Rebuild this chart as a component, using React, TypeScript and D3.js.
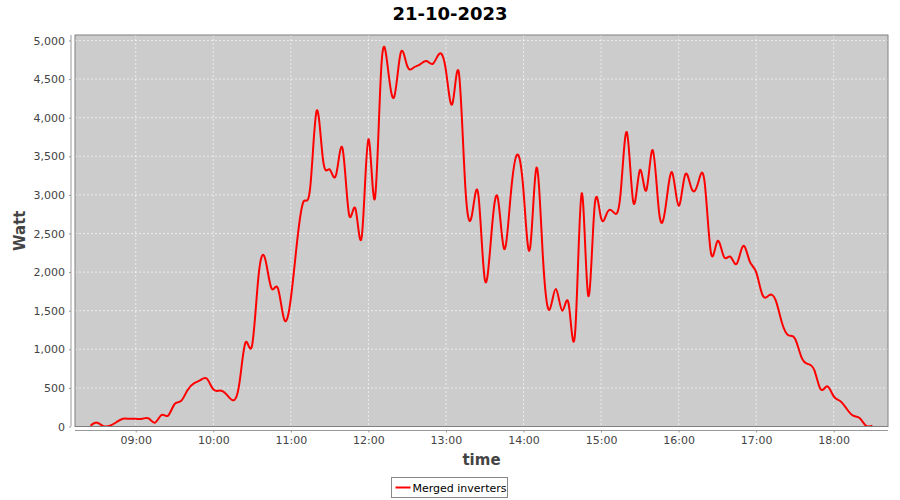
import { useEffect, useRef } from 'react';
import * as d3 from 'd3';

// 5-minute samples, 08:25 .. 18:30
const startTime = '08:25';
const stepMinutes = 5;
const watts = [
    10, 50, 5, 10, 55, 100, 100, 100, 100, 105, 50, 150, 140, 290, 330, 470, 560, 600, 620,
    480, 465, 420, 340, 540, 1090, 1050, 1950, 2180, 1790, 1790, 1380,
    1660, 2420, 2920, 3100, 4090, 3440, 3330, 3260, 3600, 2750, 2820, 2480,
    3720, 2950, 4660, 4650, 4270, 4840, 4670, 4650, 4690, 4735, 4700, 4830,
    4610, 4180, 4580, 3100, 2730, 3010, 1910, 2460, 2970, 2300, 2980, 3520,
    3050, 2300, 3350, 2200, 1510, 1780, 1500, 1580, 1230, 3020, 1700, 2850,
    2700, 2780, 2770, 3000, 3810, 2900, 3320, 3060, 3580, 2760, 2850, 3290,
    2860, 3260, 3080, 3150, 3180, 2250, 2400, 2200, 2200, 2110, 2340, 2140,
    2000, 1700, 1700, 1640, 1340, 1180, 1140, 900, 810, 730, 480, 520,
    390, 330, 230, 140, 110, 10, 10,
];
const yTicks = [0, 500, 1000, 1500, 2000, 2500, 3000, 3500, 4000, 4500, 5000];
const xTickHours = [9, 10, 11, 12, 13, 14, 15, 16, 17, 18];
const title = '21-10-2023';
const seriesName = 'Merged inverters';

const day = new Date(2023, 9, 21);
const at = (h: number, m: number) => new Date(day.getFullYear(), day.getMonth(), day.getDate(), h, m);

export default function App() {
    const ref = useRef<SVGSVGElement>(null);

    useEffect(() => {
        if (!ref.current) return;
        const svg = d3.select(ref.current);
        svg.selectAll('*').remove();

        const W = 900, H = 500;
        const plot = { left: 75, right: 888, top: 35, bottom: 426.5 };
        const font = '"DejaVu Sans", sans-serif';

        const [sh, sm] = startTime.split(':').map(Number);
        const data = watts.map((v, i) => ({ t: at(sh, sm + i * stepMinutes), v }));

        const x = d3.scaleTime()
            .domain([at(8, 13.4), at(18, 42.2)])
            .range([plot.left, plot.right]);
        const y = d3.scaleLinear()
            .domain([0, 5071])
            .range([plot.bottom, plot.top]);

        svg.append('rect').attr('width', W).attr('height', H).attr('fill', '#fff');

        // Title
        svg.append('text')
            .attr('x', 450).attr('y', 20)
            .attr('text-anchor', 'middle')
            .attr('font-family', font).attr('font-weight', 'bold').attr('font-size', 18)
            .text(title);

        // Plot background
        svg.append('rect')
            .attr('x', plot.left).attr('y', plot.top)
            .attr('width', plot.right - plot.left).attr('height', plot.bottom - plot.top)
            .attr('fill', '#cccccc');

        // Gridlines
        const grid = svg.append('g').attr('stroke', '#fff').attr('stroke-width', 0.7)
            .attr('stroke-dasharray', '2,2').attr('opacity', 0.9);
        yTicks.forEach(v => {
            grid.append('line')
                .attr('x1', plot.left).attr('x2', plot.right)
                .attr('y1', y(v)).attr('y2', y(v));
        });
        const xTicks = xTickHours.map(h => at(h, 0));
        xTicks.forEach(t => {
            grid.append('line')
                .attr('x1', x(t)).attr('x2', x(t))
                .attr('y1', plot.top).attr('y2', plot.bottom);
        });

        // Series
        const line = d3.line<{ t: Date; v: number }>()
            .x(d => x(d.t))
            .y(d => y(d.v))
            .curve(d3.curveNatural);
        svg.append('defs').append('clipPath').attr('id', 'plotclip')
            .append('rect')
            .attr('x', plot.left).attr('y', plot.top)
            .attr('width', plot.right - plot.left).attr('height', plot.bottom - plot.top);
        svg.append('path')
            .datum(data)
            .attr('clip-path', 'url(#plotclip)')
            .attr('d', line)
            .attr('fill', 'none')
            .attr('stroke', '#ff0000')
            .attr('stroke-width', 2)
            .attr('stroke-linejoin', 'round');

        // Plot outline
        svg.append('rect')
            .attr('x', plot.left).attr('y', plot.top)
            .attr('width', plot.right - plot.left).attr('height', plot.bottom - plot.top)
            .attr('fill', 'none').attr('stroke', '#808080').attr('stroke-width', 1);

        // Y axis
        const yAxis = svg.append('g')
            .attr('transform', 'translate(71,0)')
            .call(d3.axisLeft(y).tickValues(yTicks).tickSize(2).tickPadding(4)
                .tickFormat(d => d3.format(',')(d as number)).tickSizeOuter(0));
        yAxis.select('.domain').attr('stroke', '#999').attr('d', `M0,${plot.top}V${plot.bottom}`);
        yAxis.selectAll('.tick line').attr('stroke', '#999');
        yAxis.selectAll('.tick text').attr('fill', '#444').attr('font-size', 11).attr('font-family', font);

        // X axis
        const xAxis = svg.append('g')
            .attr('transform', 'translate(0,430.5)')
            .call(d3.axisBottom(x).tickValues(xTicks).tickSize(2).tickPadding(4)
                .tickFormat(d => d3.timeFormat('%H:%M')(d as Date)).tickSizeOuter(0));
        xAxis.select('.domain').attr('stroke', '#999').attr('d', `M${plot.left},0H${plot.right}`);
        xAxis.selectAll('.tick line').attr('stroke', '#999');
        xAxis.selectAll('.tick text').attr('fill', '#444').attr('font-size', 11).attr('font-family', font);

        // Axis labels
        svg.append('text')
            .attr('x', (plot.left + plot.right) / 2).attr('y', 465)
            .attr('text-anchor', 'middle')
            .attr('font-family', font).attr('font-weight', 'bold').attr('font-size', 15)
            .attr('fill', '#444')
            .text('time');
        svg.append('text')
            .attr('transform', `translate(25,${(plot.top + plot.bottom) / 2}) rotate(-90)`)
            .attr('text-anchor', 'middle')
            .attr('font-family', font).attr('font-weight', 'bold').attr('font-size', 15)
            .attr('fill', '#444')
            .text('Watt');

        // Legend
        const lg = svg.append('g').attr('transform', 'translate(391.5,477.5)');
        lg.append('rect').attr('width', 116).attr('height', 20)
            .attr('fill', '#fff').attr('stroke', '#888').attr('stroke-width', 1);
        lg.append('line').attr('x1', 4).attr('x2', 19).attr('y1', 10).attr('y2', 10)
            .attr('stroke', '#ff0000').attr('stroke-width', 2);
        lg.append('text').attr('x', 21).attr('y', 14)
            .attr('font-family', font).attr('font-size', 11).attr('fill', '#000')
            .text(seriesName);
    }, []);

    return (
        <svg
            ref={ref}
            width={900}
            height={500}
            style={{ position: 'absolute', left: 0, top: 0, display: 'block' }}
        />
    );
}
